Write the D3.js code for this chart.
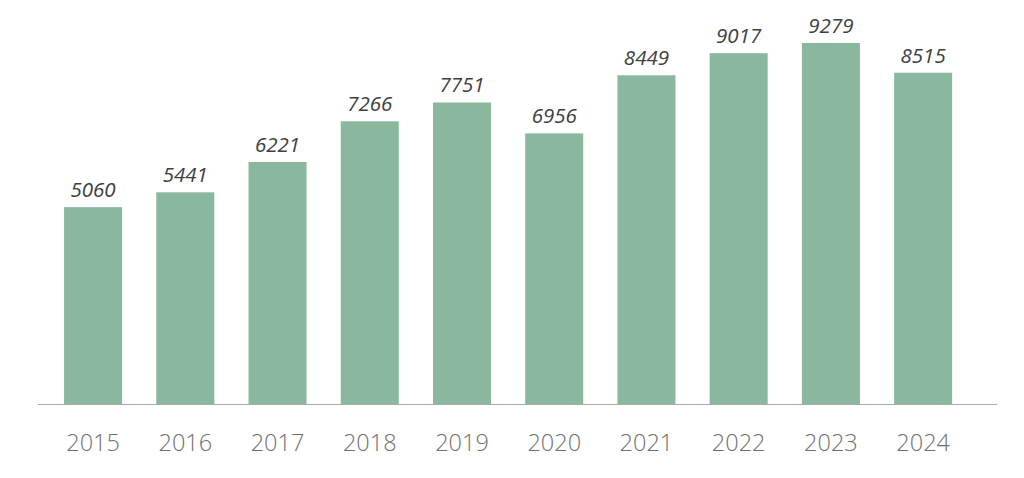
<!DOCTYPE html>
<html>
<head>
<meta charset="utf-8">
<script src="https://cdn.jsdelivr.net/npm/d3@7"></script>
<style>
  html, body { margin: 0; padding: 0; background: #fff; }
</style>
</head>
<body>
<svg id="chart"></svg>
<script>
const years = ["2015", "2016", "2017", "2018", "2019", "2020", "2021", "2022", "2023", "2024"];
const values = [5060, 5441, 6221, 7266, 7751, 6956, 8449, 9017, 9279, 8515];

const width = 1024;
const height = 478;
const baseline = 404;

const svg = d3.select("#chart")
    .attr("width", width)
    .attr("height", height)
    .style("font-family", "'Open Sans', sans-serif");

// band step ~92.2px, bar width ~58px
const x = d3.scaleBand()
    .domain(years)
    .range([47, 969.2])
    .paddingInner(0.371)
    .paddingOuter(0.185);

const y = d3.scaleLinear()
    .domain([0, 9279])
    .range([baseline, 43]);

// bars
svg.append("g")
    .attr("fill", "#89b89e")
  .selectAll("rect")
  .data(values)
  .join("rect")
    .attr("x", (d, i) => x(years[i]))
    .attr("y", d => y(d))
    .attr("width", x.bandwidth())
    .attr("height", d => y(0) - y(d));

// value labels
svg.append("g")
    .attr("text-anchor", "middle")
    .attr("font-style", "italic")
    .attr("font-size", 20.5)
    .attr("fill", "#404040")
  .selectAll("text")
  .data(values)
  .join("text")
    .attr("x", (d, i) => x(years[i]) + x.bandwidth() / 2)
    .attr("y", d => y(d) - 10)
    .text(d => d);

// baseline
svg.append("line")
    .attr("x1", 38)
    .attr("x2", 997)
    .attr("y1", baseline + 0.5)
    .attr("y2", baseline + 0.5)
    .attr("stroke", "#aaaaaa")
    .attr("stroke-width", 1);

// x axis labels
const xAxis = svg.append("g")
    .attr("transform", `translate(0,${baseline})`)
    .call(d3.axisBottom(x).tickSize(0).tickPadding(30));
xAxis.select(".domain").remove();
xAxis.selectAll("text")
    .attr("font-family", "'Open Sans', sans-serif")
    .attr("font-size", 23.5)
    .attr("font-weight", 300)
    .attr("fill", "#6f6f6f");
</script>
</body>
</html>
